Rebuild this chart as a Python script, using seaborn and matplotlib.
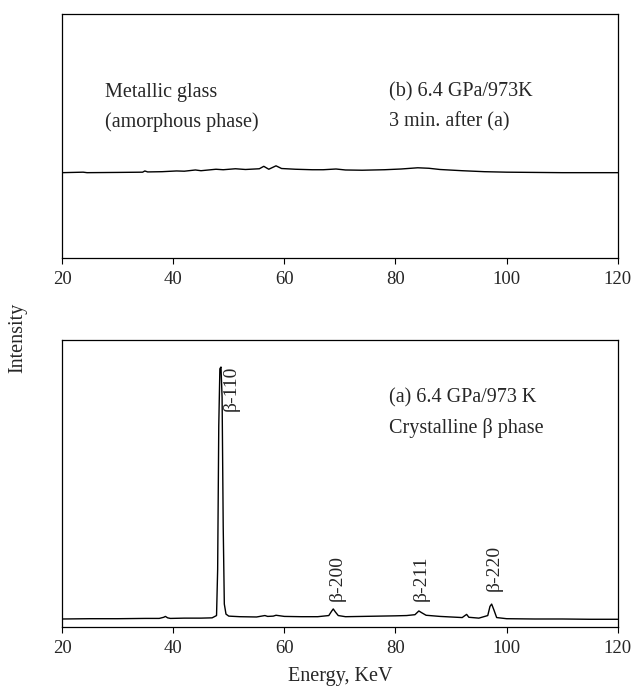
import numpy as np
import pandas as pd
import matplotlib
matplotlib.use('Agg')
import matplotlib.pyplot as plt
import seaborn as sns

# --- data ---
# top panel (b): metallic glass, nearly flat pattern
glass_energy = [20, 23.8, 24.5, 30, 34.5, 34.9, 35.4, 38, 40.6, 42, 44.0, 45, 47.7, 49, 51.2,
                53, 55.5, 56.3, 57.2, 58.5, 59.5, 62, 65, 67, 69.3, 71, 74, 78, 81,
                84, 86, 88, 92, 96, 98, 100, 105, 110, 115, 120]
glass_int = [0.350, 0.352, 0.350, 0.351, 0.352, 0.357, 0.353, 0.354, 0.357, 0.356, 0.361, 0.358,
             0.364, 0.362, 0.366, 0.363, 0.366, 0.376, 0.364, 0.378, 0.367, 0.364, 0.362, 0.362,
             0.365, 0.361, 0.360, 0.362, 0.365, 0.370, 0.368, 0.363, 0.358, 0.354, 0.353,
             0.352, 0.351, 0.350, 0.350, 0.350]

# bottom panel (a): crystalline beta phase
cryst_energy = [20, 25, 30, 35, 37.5, 38.3, 38.6, 39.0, 39.5, 42, 45, 47, 47.8, 48.0, 48.2,
                48.4, 48.6, 48.8, 49.0, 49.2, 49.5, 50, 52, 55, 56.5, 57, 58, 58.5, 60, 63,
                66, 68, 68.5, 68.8, 69.2, 69.7, 71, 74, 77, 80, 82, 83.5, 84.2, 84.7, 85.5,
                88, 90, 92, 92.5, 92.8, 93.2, 95, 96.6, 97.0, 97.3, 97.7, 98.2, 100, 105,
                110, 115, 120]
cryst_int = [0.028, 0.029, 0.029, 0.030, 0.030, 0.034, 0.037, 0.032, 0.030, 0.031, 0.031,
             0.032, 0.040, 0.20, 0.70, 0.90, 0.906, 0.80, 0.35, 0.08, 0.045, 0.038, 0.036,
             0.035, 0.040, 0.037, 0.038, 0.041, 0.037, 0.036, 0.036, 0.040, 0.055, 0.063,
             0.052, 0.040, 0.036, 0.037, 0.038, 0.039, 0.040, 0.043, 0.056, 0.050, 0.041,
             0.037, 0.035, 0.033, 0.040, 0.044, 0.034, 0.031, 0.040, 0.072, 0.080, 0.060,
             0.033, 0.029, 0.028, 0.028, 0.027, 0.027]

peak_labels = ['β-110', 'β-200', 'β-211', 'β-220']
peak_pos = [49.0, 69.6, 84.7, 97.8]
peak_lab_y = [0.91, 0.091, 0.091, 0.127]

xticks = [20, 40, 60, 80, 100, 120]

FS = 14.5

sns.set_theme(style='white')
plt.rcParams['font.family'] = ['Liberation Serif', 'DejaVu Serif']

fig = plt.figure(figsize=(6.33, 6.94), dpi=100)
ax_top = fig.add_axes([0.098, 0.628, 0.878, 0.352])
ax_bot = fig.add_axes([0.098, 0.0965, 0.878, 0.4135])

df_glass = pd.DataFrame({'energy': glass_energy, 'intensity': glass_int})
df_cryst = pd.DataFrame({'energy': cryst_energy, 'intensity': cryst_int})

sns.lineplot(data=df_glass, x='energy', y='intensity', ax=ax_top, color='black', lw=1.0)
sns.lineplot(data=df_cryst, x='energy', y='intensity', ax=ax_bot, color='black', lw=1.0)

for ax in (ax_top, ax_bot):
    ax.set_xlim(20, 120)
    ax.set_ylim(0, 1)
    ax.set_xticks(xticks)
    ax.set_yticks([])
    ax.set_xlabel('')
    ax.set_ylabel('')
    ax.tick_params(axis='x', direction='out', length=4, width=0.8, color='black',
                   labelsize=13.5, pad=5, bottom=True)
    for s in ax.spines.values():
        s.set_color('black')
        s.set_linewidth(0.9)

# annotations, top panel
ax_top.text(0.077, 0.68, 'Metallic glass', transform=ax_top.transAxes, fontsize=FS, va='center')
ax_top.text(0.077, 0.557, '(amorphous phase)', transform=ax_top.transAxes, fontsize=FS, va='center')
ax_top.text(0.588, 0.68, '(b) 6.4 GPa/973K', transform=ax_top.transAxes, fontsize=FS, va='center')
ax_top.text(0.588, 0.557, '3 min. after (a)', transform=ax_top.transAxes, fontsize=FS, va='center')

# annotations, bottom panel
ax_bot.text(0.588, 0.80, '(a) 6.4 GPa/973 K', transform=ax_bot.transAxes, fontsize=FS, va='center')
ax_bot.text(0.588, 0.693, 'Crystalline β phase', transform=ax_bot.transAxes, fontsize=FS, va='center')

for i, lab in enumerate(peak_labels):
    if i == 0:
        ax_bot.text(peak_pos[i], peak_lab_y[i], lab, rotation=90, ha='left', va='top', fontsize=14)
    else:
        ax_bot.text(peak_pos[i], peak_lab_y[i], lab, rotation=90, ha='center', va='bottom', fontsize=14)

fig.text(0.028, 0.513, 'Intensity', rotation=90, ha='center', va='center', fontsize=FS)
fig.text(0.538, 0.0245, 'Energy, KeV', ha='center', va='center', fontsize=FS)

fig.savefig('out.png', dpi=100, facecolor='white')
